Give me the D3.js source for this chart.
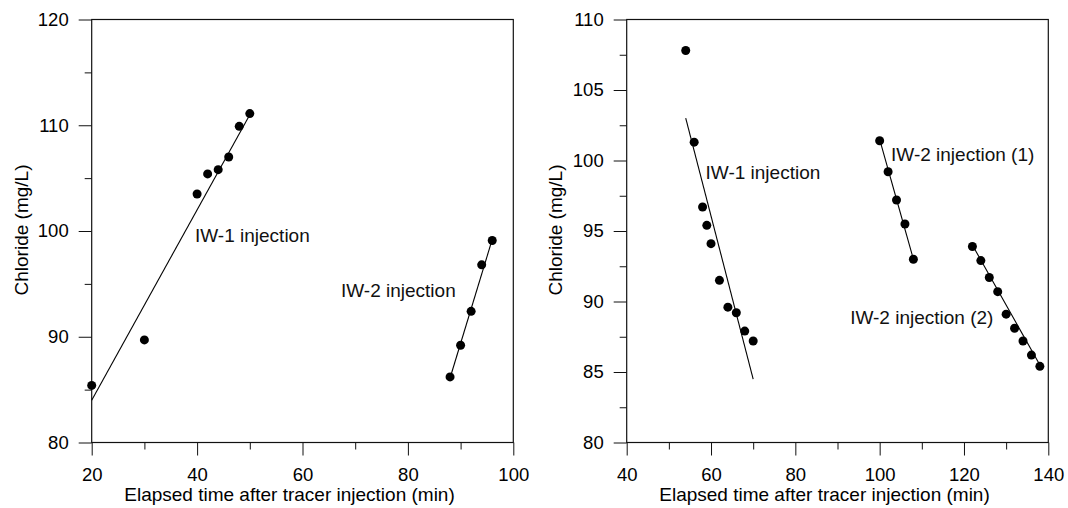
<!DOCTYPE html>
<html>
<head>
<meta charset="utf-8">
<script src="https://cdn.jsdelivr.net/npm/d3@7"></script>
<style>
  html, body { margin: 0; padding: 0; background: #fff; }
  svg { display: block; font-family: "Liberation Sans", Arial, sans-serif; }
</style>
</head>
<body>
<svg id="chart" width="1068" height="508"></svg>
<script>
// left panel data
const leftIw1Time = [20, 30, 40, 42, 44, 46, 48, 50];
const leftIw1Cl   = [85.4, 89.7, 103.5, 105.4, 105.8, 107.0, 109.9, 111.1];
const leftIw2Time = [88, 90, 92, 94, 96];
const leftIw2Cl   = [86.2, 89.2, 92.4, 96.8, 99.1];
const leftFit1Time = [20, 50];
const leftFit1Cl   = [84.0, 111.0];
const leftFit2Time = [88, 96];
const leftFit2Cl   = [86.1, 99.2];

// right panel data
const rightIw1Time = [54, 56, 58, 59, 60, 62, 64, 66, 68, 70];
const rightIw1Cl   = [107.8, 101.3, 96.7, 95.4, 94.1, 91.5, 89.6, 89.2, 87.9, 87.2];
const rightIw2aTime = [100, 102, 104, 106, 108];
const rightIw2aCl   = [101.4, 99.2, 97.2, 95.5, 93.0];
const rightIw2bTime = [122, 124, 126, 128, 130, 132, 134, 136, 138];
const rightIw2bCl   = [93.9, 92.9, 91.7, 90.7, 89.1, 88.1, 87.2, 86.2, 85.4];
const rightFit1Time = [54, 70];
const rightFit1Cl   = [103.0, 84.5];
const rightFit2aTime = [100, 108];
const rightFit2aCl   = [101.5, 93.0];
const rightFit2bTime = [122, 138];
const rightFit2bCl   = [94.0, 85.5];

// ticks
const leftXTicks = [20, 40, 60, 80, 100];
const leftXMinor = [30, 50, 70, 90];
const leftYTicks = [80, 90, 100, 110, 120];
const leftYMinor = [85, 95, 105, 115];
const rightXTicks = [40, 60, 80, 100, 120, 140];
const rightXMinor = [50, 70, 90, 110, 130];
const rightYTicks = [80, 85, 90, 95, 100, 105, 110];
const rightYMinor = [82.5, 87.5, 92.5, 97.5, 102.5, 107.5];

// annotation labels: [text, time, chloride]
const leftLabels = [["IW-1 injection", 39.6, 99.0], ["IW-2 injection", 67.3, 93.8]];
const rightLabels = [["IW-1 injection", 58.7, 98.7], ["IW-2 injection (1)", 102.7, 100.0], ["IW-2 injection (2)", 93.0, 88.4]];

const xTitle = "Elapsed time after tracer injection (min)";
const yTitle = "Chloride (mg/L)";

const svg = d3.select("#chart");
const pw = 421.6, ph = 423;

function zip(xs, ys) { return xs.map((x, i) => [x, ys[i]]); }

function panel(left, cfg) {
  const g = svg.append("g").attr("transform", `translate(${left},19.5)`);
  const x = d3.scaleLinear().domain(cfg.xDomain).range([0, pw]);
  const y = d3.scaleLinear().domain(cfg.yDomain).range([ph, 0]);

  // minor ticks
  g.append("g").attr("transform", `translate(0,${ph})`)
    .call(d3.axisBottom(x).tickValues(cfg.xMinor).tickSize(7).tickFormat(""))
    .call(a => a.select(".domain").remove());
  g.append("g")
    .call(d3.axisLeft(y).tickValues(cfg.yMinor).tickSize(7).tickFormat(""))
    .call(a => a.select(".domain").remove());

  // major ticks
  const xa = g.append("g").attr("transform", `translate(0,${ph})`)
    .call(d3.axisBottom(x).tickValues(cfg.xTicks).tickSize(13).tickPadding(12).tickFormat(d3.format("d")));
  const ya = g.append("g")
    .call(d3.axisLeft(y).tickValues(cfg.yTicks).tickSize(13).tickPadding(10).tickFormat(d3.format("d")));
  [xa, ya].forEach(a => {
    a.select(".domain").remove();
    a.selectAll("text").attr("font-size", 18.5).attr("fill", "#000").attr("font-family", "Liberation Sans, Arial, sans-serif");
    a.selectAll("line").attr("stroke", "#111");
  });
  g.selectAll(".tick line").attr("stroke", "#111");

  // frame
  g.append("rect").attr("width", pw).attr("height", ph)
    .attr("fill", "none").attr("stroke", "#111").attr("stroke-width", 1.2);

  // fit lines
  const line = d3.line().x(d => x(d[0])).y(d => y(d[1]));
  cfg.fits.forEach(f => {
    g.append("path").datum(f).attr("d", line)
      .attr("fill", "none").attr("stroke", "#000").attr("stroke-width", 1.1);
  });

  // points
  cfg.series.forEach(s => {
    g.append("g").selectAll("circle").data(s).join("circle")
      .attr("cx", d => x(d[0])).attr("cy", d => y(d[1])).attr("r", 4.5).attr("fill", "#000");
  });

  // labels
  g.selectAll("text.lbl").data(cfg.labels).join("text").attr("class", "lbl")
    .attr("x", d => x(d[1])).attr("y", d => y(d[2]))
    .attr("font-size", 19).attr("fill", "#111").text(d => d[0]);

  // axis titles
  g.append("text").attr("x", pw / 2 - 13).attr("y", 481)
    .attr("text-anchor", "middle").attr("font-size", 19).attr("fill", "#000").text(xTitle);
  g.append("text").attr("transform", `translate(${cfg.yTitleX},${230 - 19.5}) rotate(-90)`)
    .attr("text-anchor", "middle").attr("font-size", 19).attr("fill", "#000").text(yTitle);
}

panel(91.7, {
  xDomain: [20, 100], yDomain: [80, 120],
  xTicks: leftXTicks, xMinor: leftXMinor, yTicks: leftYTicks, yMinor: leftYMinor,
  fits: [zip(leftFit1Time, leftFit1Cl), zip(leftFit2Time, leftFit2Cl)],
  series: [zip(leftIw1Time, leftIw1Cl), zip(leftIw2Time, leftIw2Cl)],
  labels: leftLabels, yTitleX: 28 - 91.7
});

panel(626.7, {
  xDomain: [40, 140], yDomain: [80, 110],
  xTicks: rightXTicks, xMinor: rightXMinor, yTicks: rightYTicks, yMinor: rightYMinor,
  fits: [zip(rightFit1Time, rightFit1Cl), zip(rightFit2aTime, rightFit2aCl), zip(rightFit2bTime, rightFit2bCl)],
  series: [zip(rightIw1Time, rightIw1Cl), zip(rightIw2aTime, rightIw2aCl), zip(rightIw2bTime, rightIw2bCl)],
  labels: rightLabels, yTitleX: 561.6 - 626.7
});
</script>
</body>
</html>
